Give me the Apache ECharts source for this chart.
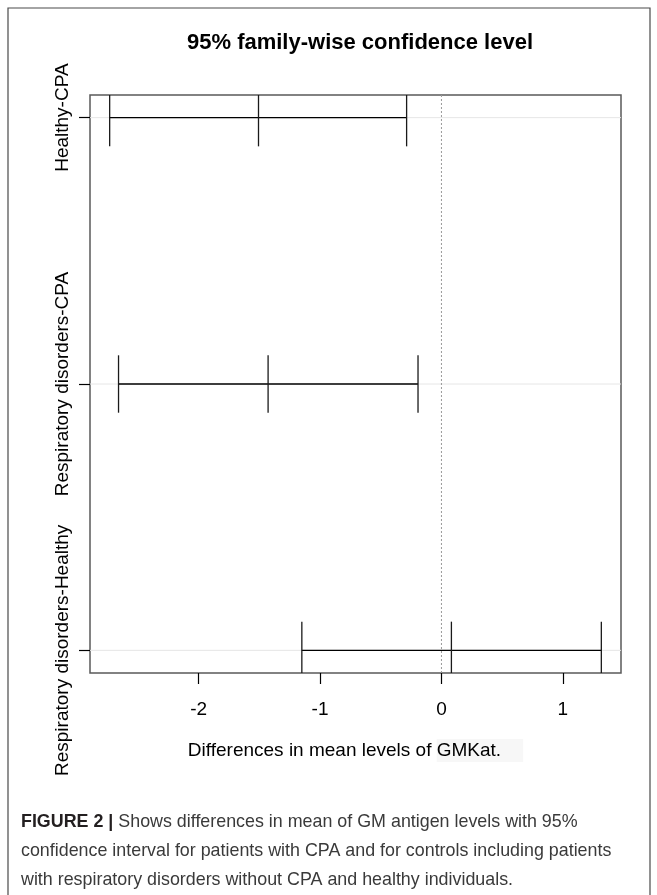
<!DOCTYPE html>
<html>
<head>
<meta charset="utf-8">
<script src="https://cdn.jsdelivr.net/npm/echarts@6/dist/echarts.min.js"></script>
<style>
html,body{margin:0;padding:0;background:#fff;}
#chart{width:657px;height:895px;}
</style>
</head>
<body>
<div id="chart"></div>
<script>
// ---- data ----
var comparisons = ['Healthy-CPA', 'Respiratory disorders-CPA', 'Respiratory disorders-Healthy'];
var yPositions = [3, 2, 1];
var diffs = [-1.507, -1.428, 0.082];
var lowers = [-2.733, -2.660, -1.150];
var uppers = [-0.287, -0.193, 1.317];
var xTicks = [-2, -1, 0, 1];
var zeroLine = [0];
var titleText = '95% family-wise confidence level';
var xAxisTitle = 'Differences in mean levels of ';
var xAxisTitleTail = 'GMKat.';
var captionLines = [
  'Shows differences in mean of GM antigen levels with 95%',
  'confidence interval for patients with CPA and for controls including patients',
  'with respiratory disorders without CPA and healthy individuals.'
];
var captionLead = 'FIGURE 2 |';

var FONT = '"Liberation Sans", Arial, sans-serif';

var seriesData = comparisons.map(function (c, i) {
  return [yPositions[i], lowers[i], diffs[i], uppers[i]];
});

var chart = echarts.init(document.getElementById('chart'), null, {renderer: 'canvas'});

var CAP_HALF = 28.7;

function renderInterval(params, api) {
  var cs = params.coordSys;
  var yv = api.value(0);
  var pL = api.coord([api.value(1), yv]);
  var pM = api.coord([api.value(2), yv]);
  var pU = api.coord([api.value(3), yv]);
  var top = cs.y, bot = cs.y + cs.height;
  function cap(p) {
    return {
      type: 'line',
      shape: {x1: p[0], y1: Math.max(top, p[1] - CAP_HALF), x2: p[0], y2: Math.min(bot, p[1] + CAP_HALF)},
      style: {stroke: '#1a1a1a', lineWidth: 1.3}
    };
  }
  return {
    type: 'group',
    children: [
      {type: 'line', shape: {x1: cs.x, y1: pM[1], x2: cs.x + cs.width, y2: pM[1]},
        style: {stroke: '#e6e6e6', lineWidth: 1}},
      {type: 'line', shape: {x1: pL[0], y1: pL[1], x2: pU[0], y2: pU[1]},
        style: {stroke: '#000', lineWidth: 1.3}},
      cap(pL), cap(pM), cap(pU)
    ]
  };
}

function renderZero(params, api) {
  var cs = params.coordSys;
  var p = api.coord([api.value(0), 2]);
  return {
    type: 'line',
    shape: {x1: p[0], y1: cs.y, x2: p[0], y2: cs.y + cs.height},
    style: {stroke: '#9a9a9a', lineWidth: 1, lineDash: [2, 2]}
  };
}

function captionText(x, y, text, rich) {
  var st = {text: text, fontFamily: FONT, fontSize: 19, fill: '#3a3a3a', verticalAlign: 'middle', align: 'left'};
  if (rich) st.rich = rich;
  return {type: 'text', x: x, y: y, scaleX: 0.94, originX: 0, originY: 0, silent: true, style: st};
}

var option = {
  animation: false,
  backgroundColor: '#fff',
  title: {
    text: titleText,
    left: 355,
    textAlign: 'center',
    top: 27,
    textStyle: {fontFamily: FONT, fontWeight: 'bold', fontSize: 22, color: '#000'}
  },
  grid: {
    left: 90, right: 36, top: 95, bottom: 222,
    show: true, borderColor: '#5a5a5a', borderWidth: 1.5, backgroundColor: 'transparent'
  },
  xAxis: {
    type: 'value',
    min: -2.895, max: 1.479,
    position: 'bottom',
    axisLine: {show: false, onZero: false},
    splitLine: {show: false},
    axisTick: {show: true, length: 11, lineStyle: {color: '#000', width: 1.2}, customValues: xTicks},
    axisLabel: {
      customValues: xTicks, margin: 27,
      fontFamily: FONT, fontSize: 19, color: '#000',
      formatter: function (v) { return String(v); }
    },
    name: xAxisTitle + '{g|' + xAxisTitleTail + '}',
    nameLocation: 'middle',
    nameGap: 66,
    nameTextStyle: {
      fontFamily: FONT, fontSize: 19, color: '#000',
      rich: {g: {fontFamily: FONT, fontSize: 19, color: '#000', backgroundColor: '#f7f7f7', padding: [2, 22, 2, 0]}}
    }
  },
  yAxis: {
    type: 'value',
    min: 0.915, max: 3.085,
    position: 'left',
    axisLine: {show: false, onZero: false},
    splitLine: {show: false},
    axisTick: {show: true, length: 11, lineStyle: {color: '#000', width: 1.2}, customValues: yPositions},
    axisLabel: {
      customValues: yPositions, rotate: 90, margin: 18,
      fontFamily: FONT, fontSize: 19, color: '#000',
      formatter: function (v) {
        var idx = yPositions.indexOf(Math.round(v));
        return idx >= 0 ? comparisons[idx] : '';
      }
    }
  },
  series: [
    {
      type: 'custom',
      renderItem: renderInterval,
      data: seriesData,
      encode: {x: [1, 2, 3], y: 0},
      z: 3
    },
    {
      type: 'custom',
      renderItem: renderZero,
      data: zeroLine.map(function (v) { return [v]; }),
      encode: {x: 0},
      z: 4
    }
  ],
  graphic: [
    {type: 'rect', silent: true, shape: {x: 8, y: 8, width: 642, height: 900},
      style: {fill: 'none', stroke: '#4a4a4a', lineWidth: 1.2}},
    captionText(21, 822, '{b|' + captionLead + '} ' + captionLines[0],
      {b: {fontFamily: FONT, fontWeight: 'bold', fontSize: 19, fill: '#231f20'}}),
    captionText(21, 851, captionLines[1]),
    captionText(21, 880, captionLines[2])
  ]
};

chart.setOption(option);
</script>
</body>
</html>
